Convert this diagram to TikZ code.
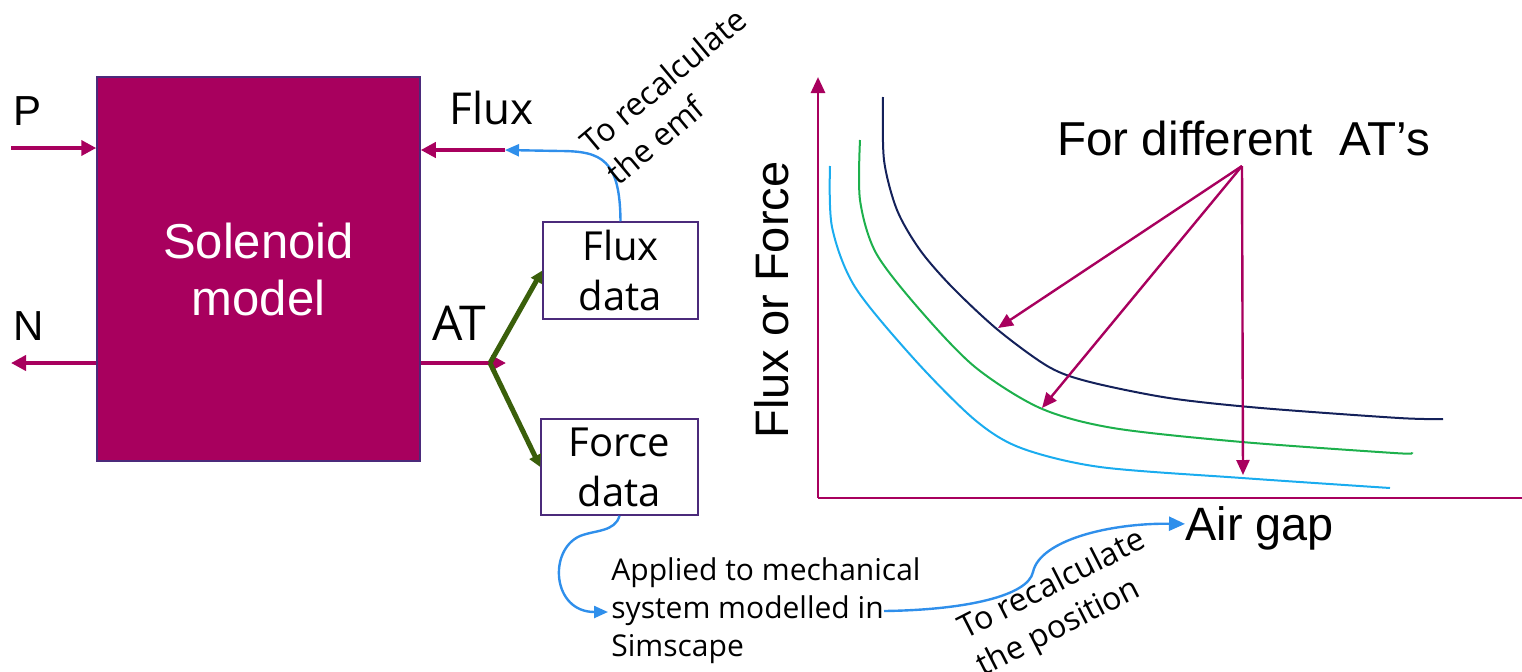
\documentclass[tikz,border=0pt]{standalone}
\usepackage{fontspec}
\setmainfont{Open Sans}
\newfontfamily\arialfont{Liberation Sans}
\usetikzlibrary{arrows.meta}

\definecolor{solmag}{HTML}{A8005E}
\definecolor{boxpurple}{HTML}{4B2A7B}
\definecolor{curvenavy}{HTML}{14215A}
\definecolor{curvegreen}{HTML}{1DB04C}
\definecolor{curvecyan}{HTML}{1AACEF}
\definecolor{linkblue}{HTML}{2F8FEB}
\definecolor{branchgreen}{HTML}{3A5F0B}

\begin{document}
\begin{tikzpicture}[x=0.5pt,y=-0.5pt,
  sig/.style={draw=solmag, line width=2pt, -{Triangle[length=7.5pt,width=7.5pt]}},
  axisline/.style={draw=solmag, line width=1.4pt, -{Triangle[length=8pt,width=7pt]}},
  pointer/.style={draw=solmag, line width=1.2pt, -{Triangle[length=7.5pt,width=6.5pt]}},
  branch/.style={draw=branchgreen, line width=2.5pt, -{Triangle[length=6pt,width=6pt]}},
  link/.style={draw=linkblue, line width=1.2pt, -{Triangle[length=7pt,width=6pt]}},
  datablock/.style={draw=boxpurple, line width=0.75pt, fill=white, align=center,
    font=\fontsize{20}{25}\selectfont, inner sep=0pt},
  curve/.style={line width=1pt},
  lbl/.style={inner sep=0pt, anchor=base west},
  note/.style={inner sep=0pt, align=left, font=\fontsize{16}{20.5}\selectfont},
]
\useasboundingbox (0,0) rectangle (1522,671);

% solenoid block
\node[draw=boxpurple, line width=0.75pt, fill=solmag, text=white, align=center,
      minimum width=161.5pt, minimum height=192pt, inner sep=0pt,
      font=\arialfont\fontsize{24.5}{28.5}\selectfont] (sol) at (258.5,269) {Solenoid\\model};

% port labels
\node[lbl, font=\arialfont\fontsize{21}{25}\selectfont] (plbl) at (13,125) {P};
\node[lbl, font=\arialfont\fontsize{21}{25}\selectfont] (nlbl) at (13,340) {N};
\node[lbl, font=\fontsize{22}{26}\selectfont] (fluxlbl) at (449,124) {Flux};
\node[lbl, font=\fontsize{24}{28}\selectfont] (atlbl) at (432,340) {AT};

% lookup tables
\node[datablock, minimum width=77.5pt, minimum height=48.5pt] (fluxdata) at (620.5,270.5) {Flux\\data};
\node[datablock, minimum width=78.5pt, minimum height=48pt] (forcedata) at (619.5,467) {Force\\data};

% port arrows
\coordinate (pin) at (11,148);
\coordinate (nout) at (11,363);
\coordinate (fluxin) at (505,150);
\coordinate (atout) at (506,363);
\coordinate (split) at (490,363);
\draw[sig] (pin) -- (sol.west |- pin);
\draw[sig] (sol.west |- nout) -- (nout);
\draw[sig] (fluxin) -- (sol.east |- fluxin);
\draw[sig] (sol.east |- atout) -- (atout);

% AT feeds both tables
\draw[branch] (split) -- (fluxdata.west);
\draw[branch] (split) -- (forcedata.west);

% feedback links
\draw[link] (fluxdata.north) .. controls (620,160) and (602,151) .. (560,151) -- (fluxin);
\node[note, rotate=40] (emfnote) at (676,96) {To recalculate\\the emf};

\node[note, anchor=north west, font=\fontsize{15}{19}\selectfont] (simtext) at (611,557)
  {Applied to mechanical\\system modelled in\\Simscape};
\coordinate (simin) at (608,612);
\coordinate (simout) at (884,611);
\draw[link] (forcedata.south) .. controls (615,532) and (595,530) .. (580,536)
  .. controls (548,550) and (552,612) .. (simin);

% characteristic plot
\coordinate (origin) at (818,498);
\coordinate (ytop) at (818,77);
\coordinate (xend) at (1545,498);
\draw[axisline] (origin) -- (ytop);
\draw[axisline] (origin) -- (xend);

\node[inner sep=0pt, rotate=90, font=\arialfont\fontsize{23.5}{28}\selectfont] (ylbl) at (772,300) {Flux or Force};
\node[lbl, font=\arialfont\fontsize{23.4}{28}\selectfont] (airgap) at (1185,540) {Air gap};
\node[lbl, font=\arialfont\fontsize{23.8}{28}\selectfont] (atsnote) at (1057,155) {For different\ \ AT’s};

\draw[link, -{Triangle[length=8pt,width=7pt]}] (simout) .. controls (965,610) and (1028,596) .. (1033,572)
  .. controls (1040,540) and (1110,523) .. ([yshift=2pt]airgap.west);
\node[note, rotate=27] (posnote) at (1062,604) {To recalculate\\the position};

\draw[curve, curvenavy] plot[smooth] coordinates {(883,97) (884,160) (897,210) (920,250) (952,287)
  (998,330) (1049,367) (1090,382) (1169,398) (1261,408) (1399,418) (1443,419)};
\draw[curve, curvegreen] plot[smooth] coordinates {(860,140) (860,200) (876,253) (920,310) (975,367)
  (1040,408) (1113,428) (1242,442) (1394,453) (1411,453)};
\draw[curve, curvecyan] plot[smooth] coordinates {(830,166) (832,227) (855,287) (915,360) (975,420)
  (1021,448) (1100,467) (1242,478) (1390,488)};

\coordinate (fan) at (1242,166);
\coordinate (tnavy) at (998,328);
\coordinate (tgreen) at (1042,408);
\coordinate (tcyan) at (1243,475);
\draw[pointer] (fan) -- (tnavy);
\draw[pointer] (fan) -- (tgreen);
\draw[pointer] (fan) -- (tcyan);
\end{tikzpicture}
\end{document}
